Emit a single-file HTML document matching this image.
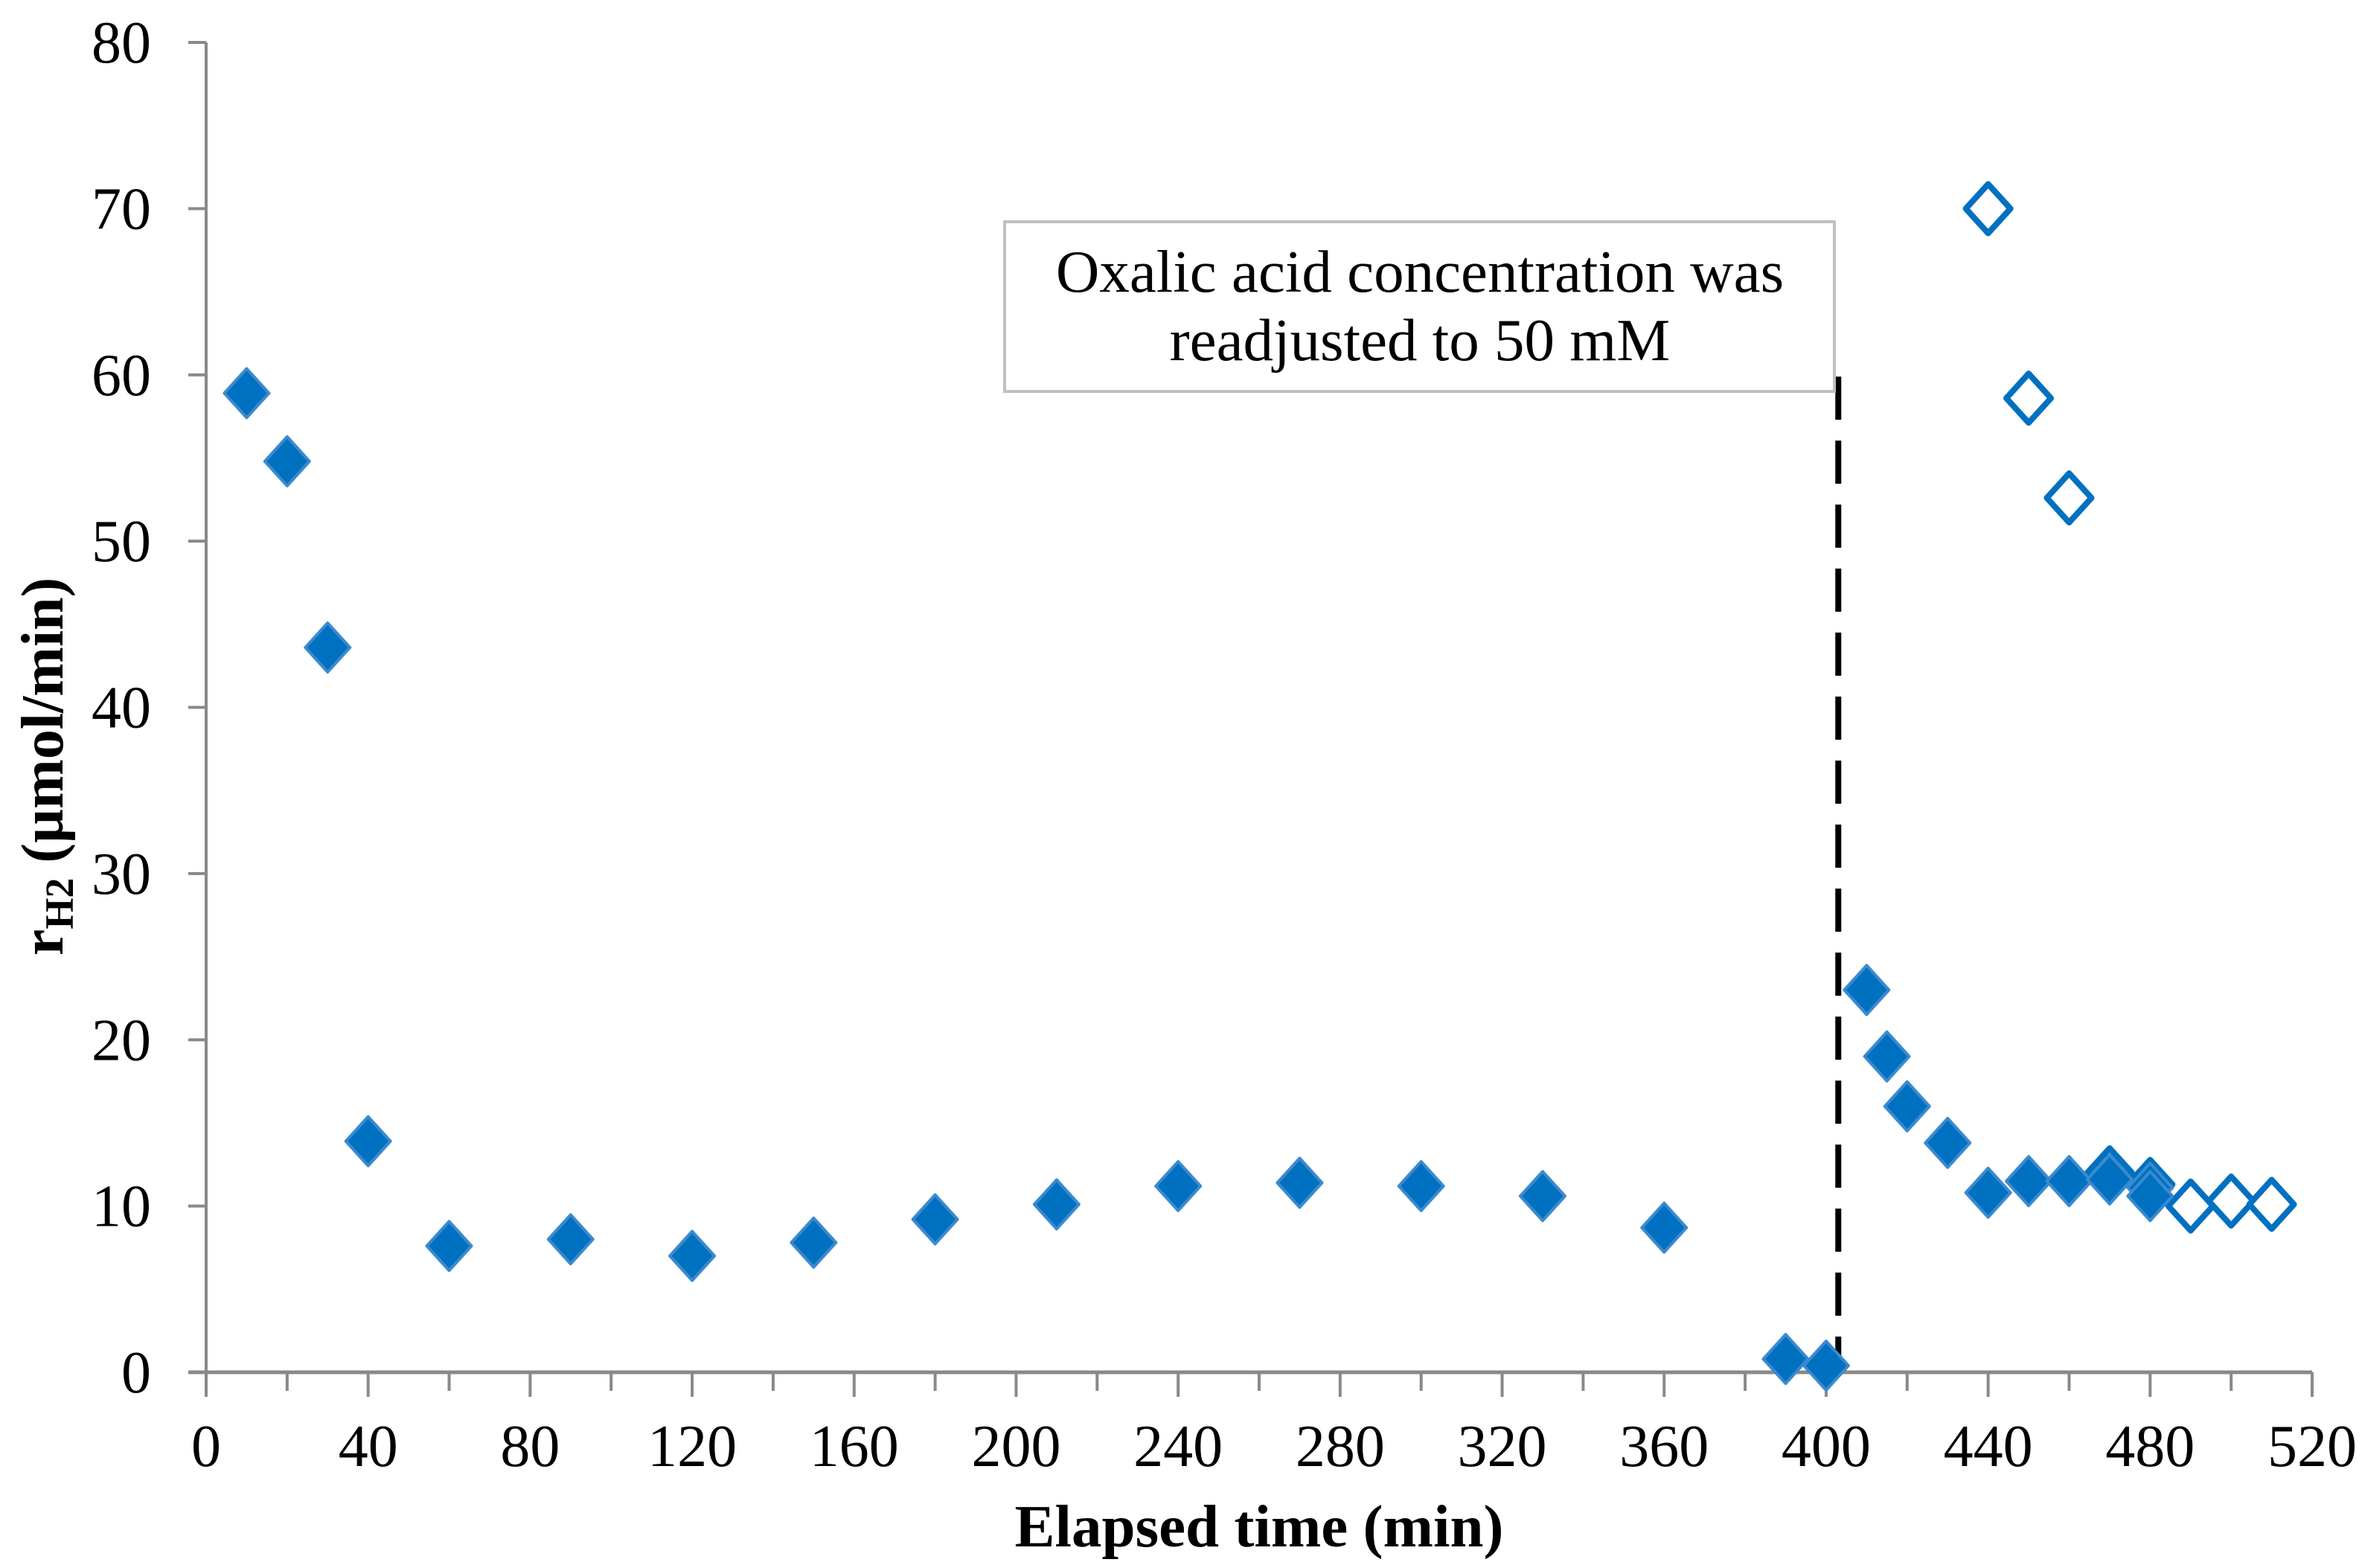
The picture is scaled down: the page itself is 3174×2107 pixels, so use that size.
<!DOCTYPE html>
<html><head><meta charset="utf-8"><style>
body{margin:0;background:#fff}
svg{display:block;font-family:"Liberation Serif",serif}
</style></head><body>
<svg id="chart" width="3174" height="2107" viewBox="0 0 3174 2107" xmlns="http://www.w3.org/2000/svg">
<g id="axes"></g>
<g id="marks"></g>
<rect x="1350" y="298" width="1115" height="228" fill="#fff" stroke="#bfbfbf" stroke-width="4"/>
<text x="1908" y="392" font-size="81" text-anchor="middle">Oxalic acid concentration was</text>
<text x="1908" y="484" font-size="81" text-anchor="middle">readjusted to 50 mM</text>
<text x="1692" y="2078" font-size="81" font-weight="bold" text-anchor="middle">Elapsed time (min)</text>
<text transform="translate(84,1030) rotate(-90)" font-size="80" font-weight="bold" text-anchor="middle">r<tspan font-size="54" dy="14">H2</tspan><tspan dy="-14"> (µmol/min)</tspan></text>
</svg>
<script>
const xTicks=[0,40,80,120,160,200,240,280,320,360,400,440,480,520];
const yTicks=[0,10,20,30,40,50,60,70,80];
const filledX=[10,20,30,40,60,90,120,150,180,210,240,270,300,330,360,390,400,410,415,420,430,440,450,460,470,480,480];
const filledY=[58.9,54.8,43.6,13.9,7.6,8.0,7.0,7.8,9.2,10.1,11.2,11.4,11.2,10.6,8.7,0.8,0.4,23.0,19.0,16.0,13.8,10.8,11.5,11.5,11.6,11.1,10.6];
const openX=[440,450,460,470,480,490,500,510];
const openY=[70.0,58.6,52.6,12.0,11.3,10.0,10.3,10.1];
const markerX=403;
const NS="http://www.w3.org/2000/svg";
const X0=277,X1=3107,Y0=1844,Y1=57;
const xs=v=>X0+(v/520)*(X1-X0);
const ys=v=>Y0-(v/80)*(Y0-Y1);
function mk(tag,attrs,parent){const e=document.createElementNS(NS,tag);for(const k in attrs)e.setAttribute(k,attrs[k]);parent.appendChild(e);return e;}
const axes=document.getElementById('axes'),marks=document.getElementById('marks');
const G="#898989";
let l=mk('line',{x1:X0,y1:Y1,x2:X0,y2:Y0,stroke:G,'stroke-width':4},axes);


l=mk('line',{x1:X0-24,y1:Y0,x2:X1,y2:Y0,stroke:G,'stroke-width':5},axes);


yTicks.forEach(v=>{
 const t=mk('line',{x1:X0-24,y1:ys(v),x2:X0,y2:ys(v),stroke:G,'stroke-width':4},axes);
 
 
 const tx=mk('text',{x:203,y:ys(v)+27,'font-size':80,'text-anchor':'end'},axes);
 tx.textContent=v;
 
 
});
for(let v=0;v<=520;v+=20){
 const major=v%40===0;
 const t=mk('line',{x1:xs(v),y1:Y0,x2:xs(v),y2:Y0+(major?33:25),stroke:G,'stroke-width':4},axes);
 
 
}
xTicks.forEach(v=>{
 const tx=mk('text',{x:xs(v),y:1970,'font-size':80,'text-anchor':'middle'},axes);
 tx.textContent=v;
 
 
});
const dl=mk('line',{x1:xs(markerX),y1:506,x2:xs(markerX),y2:Y0,stroke:'#000','stroke-width':8,'stroke-dasharray':'58 28'},marks);


function diamond(cx,cy,filled){
 const hw=30,hh=33;
 const p=mk('polygon',{points:`${cx},${cy-hh} ${cx+hw},${cy} ${cx},${cy+hh} ${cx-hw},${cy}`,
  fill:filled?'#0070c0':'#fff',stroke:filled?'#3a8ad0':'#0070c0','stroke-width':filled?4:8,'stroke-linejoin':'round'},marks);
 return p;
}
openX.forEach((x,i)=>{
 const p=diamond(xs(x),ys(openY[i]),false);
 
 
});
filledX.forEach((x,i)=>{
 const p=diamond(xs(x),ys(filledY[i]),true);
 
 
});
</script>
</body></html>
